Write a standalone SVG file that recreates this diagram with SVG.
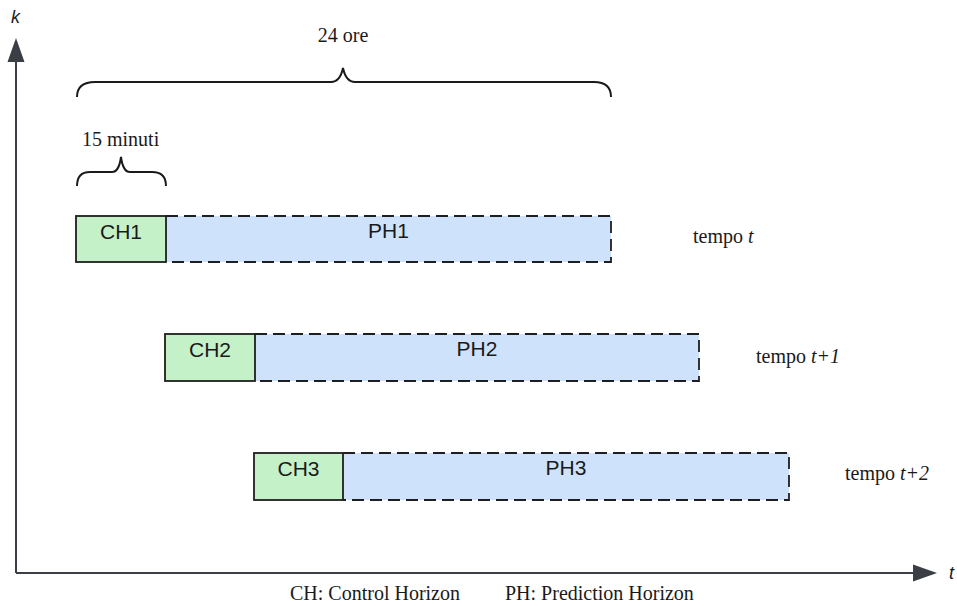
<svg xmlns="http://www.w3.org/2000/svg" width="957" height="606" viewBox="0 0 957 606">
  <style>
    .ch { fill: #c5f1c9; stroke: #1e1e1e; stroke-width: 1.8; }
    .ph { fill: #cfe2fb; stroke: none; }
    .dash { fill: none; stroke: #1e1e1e; stroke-width: 1.8; stroke-dasharray: 12 6; }
    .box { font-family: "Liberation Sans", Arial, sans-serif; font-size: 21px; fill: #1a1a1a; text-anchor: middle; }
    .serif { font-family: "Liberation Serif", "Times New Roman", serif; font-size: 20px; fill: #1a1a1a; }
    .brace { fill: none; stroke: #1a1a1a; stroke-width: 2; }
    .axis { stroke: #3b3e45; stroke-width: 2; fill: none; }
    .head { fill: #3b3e45; }
    .axlabel { font-family: "Liberation Sans", Arial, sans-serif; font-style: italic; font-size: 18px; fill: #1a1a1a; }
  </style>

  <rect width="957" height="606" fill="#ffffff"/>

  <g id="connectors">
    <path class="axis" d="M16,573 L16,60 M16,573 L915,573"/>
    <polygon class="head" points="16,38 7.5,62 24.5,62"/>
    <polygon class="head" points="937,573 913,564.5 913,581.5"/>
  </g>

  <g id="axis-labels">
    <text class="axlabel" x="11" y="23">k</text>
    <text class="axlabel" x="949" y="579">t</text>
  </g>

  <g id="brace-24ore">
    <path class="brace" d="M77,97 Q77,82 95,82 L331,82 Q340,82 343,68 Q346,82 355,82 L594,82 Q611,82 611,97"/>
    <text class="serif" x="343" y="42" text-anchor="middle">24 ore</text>
  </g>

  <g id="brace-15min">
    <path class="brace" d="M77,186 Q77,172 90,172 L112,172 Q119,172 121,157 Q123,172 130,172 L152,172 Q166,172 166,186"/>
    <text class="serif" x="82" y="146" font-size="16">15 minuti</text>
  </g>

  <g id="ph1">
    <rect class="ph" x="166" y="216" width="445" height="46"/>
    <path class="dash" d="M166,216 L611,216 L611,262 L166,262"/>
    <text class="box" x="388.5" y="238">PH1</text>
  </g>
  <g id="ch1">
    <rect class="ch" x="76" y="216" width="90" height="46"/>
    <text class="box" x="121" y="239">CH1</text>
  </g>
  <g id="label-t">
    <text class="serif" x="693" y="243">tempo <tspan font-style="italic">t</tspan></text>
  </g>

  <g id="ph2">
    <rect class="ph" x="255" y="334" width="444" height="47"/>
    <path class="dash" d="M255,334 L699,334 L699,381 L255,381"/>
    <text class="box" x="477" y="356">PH2</text>
  </g>
  <g id="ch2">
    <rect class="ch" x="165" y="334" width="90" height="47"/>
    <text class="box" x="210" y="357">CH2</text>
  </g>
  <g id="label-t1">
    <text class="serif" x="756" y="363">tempo <tspan font-style="italic">t+1</tspan></text>
  </g>

  <g id="ph3">
    <rect class="ph" x="343" y="453" width="446" height="47"/>
    <path class="dash" d="M343,453 L789,453 L789,500 L343,500"/>
    <text class="box" x="566" y="475">PH3</text>
  </g>
  <g id="ch3">
    <rect class="ch" x="254" y="453" width="89" height="47"/>
    <text class="box" x="298.5" y="476">CH3</text>
  </g>
  <g id="label-t2">
    <text class="serif" x="845" y="480">tempo <tspan font-style="italic">t+2</tspan></text>
  </g>

  <g id="legend">
    <text class="serif" x="290" y="600">CH: Control Horizon</text>
    <text class="serif" x="505" y="600">PH: Prediction Horizon</text>
  </g>
</svg>
